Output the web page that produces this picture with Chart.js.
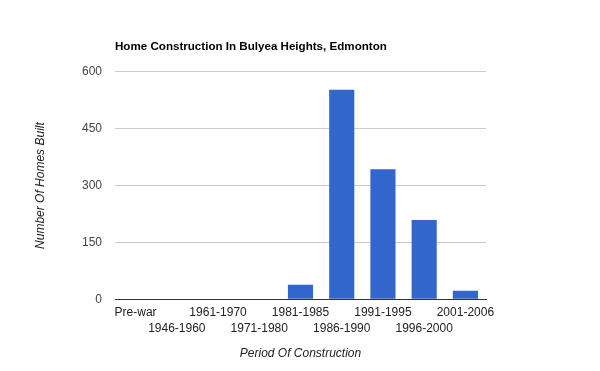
<!DOCTYPE html>
<html>
<head>
<meta charset="utf-8">
<script src="https://cdn.jsdelivr.net/npm/chart.js@4.4.0/dist/chart.umd.min.js"></script>
<style>
  html, body { margin: 0; padding: 0; background: #fff; }
  canvas { display: block; }
</style>
</head>
<body>
<canvas id="homesChart" width="600" height="371"></canvas>
<script>
// data
var aPeriods = ["Pre-war", "1946-1960", "1961-1970", "1971-1980", "1981-1985",
                "1986-1990", "1991-1995", "1996-2000", "2001-2006"];
var aHomesBuilt = [0, 0, 0, 0, 38, 553, 343, 209, 22];
var aYTicks = [0, 150, 300, 450, 600];

var sFont = "'Liberation Sans', Arial, sans-serif";

var oHomesChart = new Chart(document.getElementById("homesChart"), {
    type: 'bar',
    data: {
        labels: aPeriods,
        datasets: [{
            label: "Number Of Homes Built",
            data: aHomesBuilt,
            backgroundColor: '#3366cc',
            borderWidth: 0,
            barPercentage: 0.61,
            categoryPercentage: 1
        }]
    },
    options: {
        responsive: false,
        animation: false,
        devicePixelRatio: 1,
        layout: { padding: { left: 0, right: 114, top: 0, bottom: 0 } },
        plugins: {
            legend: { display: false },
            tooltip: { enabled: false },
            title: {
                display: true,
                text: "Home Construction In Bulyea Heights, Edmonton",
                align: 'start',
                fullSize: false,
                color: '#000',
                font: { family: sFont, size: 11.6, weight: 'bold' },
                padding: { top: 39.5, bottom: 18.5 }
            }
        },
        scales: {
            x: {
                grid: { display: false, drawTicks: false },
                border: { display: true, color: '#333', width: 1 },
                ticks: {
                    autoSkip: false,
                    maxRotation: 0,
                    minRotation: 0,
                    padding: 5.5,
                    color: '#222',
                    font: { family: sFont, size: 12, lineHeight: 1.35 },
                    callback: function (value, index) {
                        // Google-style staggered labels
                        var sLabel = aPeriods[index];
                        return index % 2 === 1 ? ['', sLabel] : sLabel;
                    }
                },
                title: {
                    display: true,
                    text: "Period Of Construction",
                    color: '#222',
                    font: { family: sFont, size: 12, style: 'italic' },
                    padding: { top: 3.5, bottom: 10.5 }
                }
            },
            y: {
                min: aYTicks[0],
                max: aYTicks[aYTicks.length - 1],
                afterBuildTicks: function (scale) {
                    scale.ticks = aYTicks.map(function (v) { return { value: v }; });
                },
                afterFit: function (scale) {
                    scale.width = 115;
                },
                grid: { color: '#cccccc', lineWidth: 1, drawTicks: false },
                border: { display: false },
                ticks: {
                    padding: 13,
                    color: '#444',
                    font: { family: sFont, size: 12 }
                },
                title: {
                    display: true,
                    text: "Number Of Homes Built",
                    color: '#222',
                    font: { family: sFont, size: 12, style: 'italic' },
                    padding: { top: 33, bottom: 0 }
                }
            }
        }
    }
});
</script>
</body>
</html>
